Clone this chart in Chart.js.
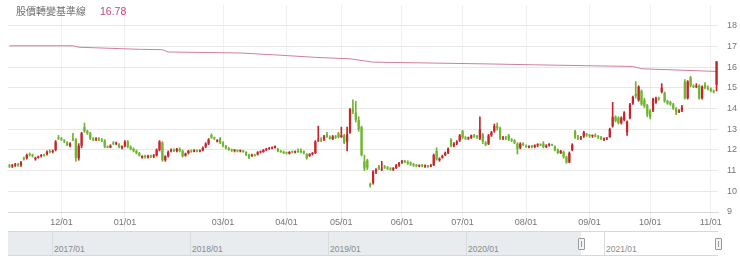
<!DOCTYPE html>
<html>
<head>
<meta charset="utf-8">
<script src="https://cdn.jsdelivr.net/npm/chart.js@4.4.0/dist/chart.umd.min.js"></script>
<style>
  body { margin: 0; background: #fff; }
  #wrap { position: relative; width: 740px; height: 261px; overflow: hidden; font-family: "Liberation Sans", Arial, sans-serif; }
  #box { position: absolute; left: 0; top: 0; width: 740px; height: 231px; }
  #title { position: absolute; left: 16px; top: 3px; font-size: 10px; color: #6e6e6e; font-family: "Noto Sans CJK TC", sans-serif; white-space: nowrap; }
  #title span { color: #c4467c; font-family: "Liberation Sans", Arial, sans-serif; font-size: 10.5px; margin-left: 14px; }
  #nav { position: absolute; left: 8px; top: 231px; width: 710px; height: 23px; border-top: 1px solid #d5d8dc; border-bottom: 1px solid #d5d8dc; background: #fff; }
  .mask { position: absolute; top: 0; bottom: 0; background: #e9ecef; }
  .yl { position: absolute; top: 0; bottom: 0; width: 1px; background: #d9dcdf; }
  .yt { position: absolute; top: 12px; font-size: 8.5px; color: #8a8a8a; }
  .handle { position: absolute; top: 6px; width: 5px; height: 10px; background: #f4f4f4; border: 1px solid #9a9a9a; border-radius: 1px; }
  .handle::after { content: ""; position: absolute; left: 2px; top: 2px; width: 1px; height: 6px; background: #9a9a9a; }
</style>
</head>
<body>
<div id="wrap">
  <div id="box"><canvas id="candleChart"></canvas></div>
  <div id="title"></div>
  <div id="nav"></div>
</div>
<script>
// daily candles, one entry per trading day (Nov 2020 - Nov 2021)
const opens = [
  11.25, 11.2, 11.25, 11.3, 11.25, 11.6, 11.6, 11.8, 11.75, 11.55,
  11.62, 11.7, 11.75, 11.8, 11.95, 11.9, 12.0, 12.6, 12.55, 12.45,
  12.35, 12.2, 12.55, 12.5, 11.6, 12.2, 13.1, 12.9, 12.8, 12.55,
  12.5, 12.55, 12.5, 12.45, 12.15, 12.12, 12.35, 12.3, 12.25, 12.1,
  12.2, 12.4, 12.15, 12.05, 11.95, 11.85, 11.62, 11.7, 11.65, 11.7,
  11.68, 11.72, 12.0, 12.35, 11.5, 11.7, 11.95, 12.0, 11.95, 12.05,
  11.95, 11.72, 11.85, 11.95, 11.92, 11.98, 11.93, 11.98, 12.15, 12.3,
  12.72, 12.6, 12.4, 12.55, 12.35, 12.2, 12.08, 12.0, 11.96, 11.98,
  11.94, 11.96, 11.9, 11.76, 11.7, 11.74, 11.78, 11.88, 11.9, 12.0,
  12.05, 12.08, 12.1, 12.05, 11.95, 11.9, 11.85, 11.82, 11.9, 11.88,
  11.92, 11.95, 11.92, 11.8, 11.72, 11.8, 11.85, 12.45, 12.5, 12.5,
  12.75, 12.62, 12.52, 12.65, 12.8, 12.62, 12.7, 12.4, 12.85, 13.98,
  13.8, 13.45, 13.1, 11.45, 11.5, 10.35, 10.4, 10.95, 11.2, 11.05,
  11.2, 11.15, 11.1, 11.05, 11.12, 11.25, 11.38, 11.45, 11.42, 11.38,
  11.3, 11.25, 11.22, 11.25, 11.2, 11.22, 11.2, 11.26, 11.95, 11.5,
  11.62, 11.75, 11.85, 12.5, 12.2, 12.3, 12.45, 12.9, 12.6, 12.55,
  12.58, 12.7, 12.65, 12.55, 12.75, 12.35, 12.3, 12.7, 12.9, 13.15,
  13.05, 12.55, 12.6, 12.7, 12.5, 12.45, 12.3, 12.1, 12.3, 12.2,
  12.15, 12.18, 12.15, 12.22, 12.25, 12.3, 12.15, 12.22, 12.25, 12.15,
  12.0, 11.85, 11.9, 11.65, 11.4, 12.0, 12.9, 12.6, 12.55, 12.65,
  12.75, 12.7, 12.68, 12.7, 12.65, 12.6, 12.5, 12.55, 12.62, 13.15,
  13.6, 13.55, 13.3, 13.45, 12.85, 13.55, 14.25, 14.7, 14.4, 14.85,
  14.4, 14.15, 13.9, 13.9, 14.3, 14.5, 14.8, 14.75, 14.35, 14.3,
  14.2, 14.0, 13.85, 13.9, 15.3, 14.5, 15.5, 15.1, 15.05, 15.1,
  14.5, 15.15, 15.0, 14.95, 14.85, 15.15
];
const highs = [
  11.3, 11.3, 11.35, 11.35, 11.45, 11.65, 11.8, 11.85, 11.8, 11.65,
  11.7, 11.78, 11.8, 11.95, 12.0, 12.0, 12.45, 12.7, 12.6, 12.5,
  12.4, 12.35, 12.8, 12.55, 12.3, 12.85, 13.3, 12.95, 12.85, 12.6,
  12.6, 12.6, 12.55, 12.5, 12.2, 12.25, 12.4, 12.38, 12.3, 12.2,
  12.45, 12.45, 12.2, 12.1, 12.0, 11.88, 11.72, 11.75, 11.75, 11.75,
  11.78, 12.05, 12.45, 12.4, 11.72, 11.95, 12.05, 12.05, 12.08, 12.1,
  12.0, 11.85, 11.98, 12.0, 12.02, 12.0, 12.0, 12.15, 12.35, 12.55,
  12.78, 12.62, 12.5, 12.6, 12.4, 12.22, 12.12, 12.05, 12.02, 12.0,
  12.0, 11.98, 11.92, 11.8, 11.8, 11.8, 11.92, 11.95, 12.02, 12.08,
  12.12, 12.15, 12.2, 12.08, 11.98, 11.95, 11.9, 11.92, 11.95, 11.95,
  12.05, 12.05, 11.95, 11.82, 11.82, 11.88, 12.45, 13.15, 12.6, 12.7,
  12.85, 12.68, 12.7, 12.7, 12.85, 13.1, 12.75, 13.1, 14.0, 14.42,
  14.35, 13.6, 13.15, 11.75, 11.55, 10.4, 11.0, 11.1, 11.25, 11.45,
  11.25, 11.2, 11.15, 11.15, 11.3, 11.4, 11.5, 11.5, 11.48, 11.42,
  11.35, 11.3, 11.28, 11.3, 11.28, 11.26, 11.3, 11.8, 12.1, 11.62,
  11.75, 11.9, 12.1, 12.55, 12.35, 12.45, 12.75, 12.95, 12.65, 12.62,
  12.72, 12.75, 12.7, 13.6, 12.8, 12.4, 12.75, 12.9, 13.25, 13.3,
  13.1, 12.65, 12.65, 12.75, 12.55, 12.5, 12.35, 12.35, 12.35, 12.25,
  12.2, 12.22, 12.25, 12.3, 12.3, 12.4, 12.25, 12.3, 12.28, 12.2,
  12.05, 11.98, 11.95, 11.7, 11.9, 12.3, 12.95, 12.7, 12.65, 12.9,
  12.8, 12.75, 12.72, 12.78, 12.7, 12.65, 12.58, 12.6, 13.05, 14.3,
  13.65, 13.6, 13.6, 13.85, 13.4, 14.25, 14.6, 15.3, 15.1, 14.9,
  14.5, 14.2, 13.95, 14.5, 14.55, 14.55, 15.2, 14.8, 14.4, 14.35,
  14.25, 14.05, 13.95, 14.15, 15.4, 15.35, 15.55, 15.15, 15.2, 15.15,
  15.1, 15.25, 15.1, 15.0, 14.9, 16.27
];
const lows = [
  11.15, 11.15, 11.2, 11.2, 11.2, 11.5, 11.55, 11.7, 11.65, 11.5,
  11.6, 11.65, 11.7, 11.75, 11.85, 11.85, 11.95, 12.5, 12.45, 12.35,
  12.2, 12.15, 12.45, 11.45, 11.5, 12.1, 12.85, 12.75, 12.5, 12.45,
  12.45, 12.45, 12.4, 12.1, 12.1, 12.1, 12.25, 12.25, 12.1, 12.05,
  12.15, 12.1, 12.0, 11.9, 11.8, 11.7, 11.6, 11.6, 11.6, 11.62,
  11.62, 11.7, 11.95, 11.45, 11.45, 11.65, 11.9, 11.92, 11.9, 11.9,
  11.65, 11.7, 11.8, 11.88, 11.9, 11.9, 11.9, 11.95, 12.1, 12.25,
  12.55, 12.5, 12.38, 12.3, 12.15, 12.05, 11.98, 11.92, 11.9, 11.9,
  11.9, 11.88, 11.72, 11.58, 11.68, 11.7, 11.75, 11.85, 11.88, 11.96,
  12.02, 12.05, 12.08, 11.9, 11.88, 11.82, 11.8, 11.8, 11.85, 11.85,
  11.88, 11.85, 11.8, 11.55, 11.68, 11.75, 11.82, 12.4, 12.4, 12.45,
  12.6, 12.52, 12.5, 12.55, 12.58, 12.6, 12.3, 11.95, 12.8, 13.75,
  13.35, 12.9, 11.7, 11.0, 11.05, 10.2, 10.35, 10.85, 11.05, 11.0,
  11.1, 11.05, 11.02, 11.0, 11.1, 11.2, 11.35, 11.38, 11.3, 11.25,
  11.2, 11.18, 11.18, 11.18, 11.15, 11.15, 11.18, 11.24, 11.5, 11.45,
  11.6, 11.72, 11.82, 12.15, 12.15, 12.25, 12.4, 12.55, 12.5, 12.5,
  12.55, 12.6, 12.55, 12.5, 12.3, 12.2, 12.25, 12.65, 12.85, 12.95,
  12.5, 12.5, 12.5, 12.45, 12.4, 12.3, 11.8, 12.05, 12.2, 12.12,
  12.1, 12.1, 12.1, 12.15, 12.2, 12.1, 12.1, 12.18, 12.2, 11.95,
  11.82, 11.82, 11.6, 11.35, 11.38, 11.95, 12.55, 12.5, 12.5, 12.6,
  12.65, 12.6, 12.6, 12.62, 12.55, 12.5, 12.45, 12.5, 12.6, 13.1,
  13.35, 13.25, 13.25, 13.4, 12.7, 13.5, 14.2, 14.5, 14.35, 14.15,
  14.05, 13.6, 13.5, 13.85, 14.25, 14.4, 14.75, 14.3, 14.2, 14.15,
  13.95, 13.7, 13.8, 13.85, 14.45, 14.45, 15.05, 15.0, 15.0, 14.45,
  14.45, 14.95, 14.9, 14.8, 14.75, 14.85
];
const closes = [
  11.2, 11.25, 11.3, 11.25, 11.4, 11.55, 11.75, 11.75, 11.7, 11.62,
  11.68, 11.75, 11.72, 11.9, 11.9, 11.95, 12.4, 12.55, 12.5, 12.4,
  12.25, 12.3, 12.5, 11.6, 12.2, 12.8, 12.9, 12.8, 12.55, 12.5,
  12.55, 12.5, 12.45, 12.15, 12.12, 12.2, 12.3, 12.32, 12.15, 12.18,
  12.4, 12.15, 12.05, 11.95, 11.85, 11.72, 11.7, 11.65, 11.7, 11.68,
  11.72, 12.0, 12.4, 11.5, 11.7, 11.9, 12.0, 11.95, 12.05, 11.95,
  11.7, 11.82, 11.95, 11.92, 11.98, 11.93, 11.97, 12.1, 12.3, 12.5,
  12.6, 12.55, 12.47, 12.35, 12.2, 12.08, 12.0, 11.96, 11.98, 11.94,
  11.96, 11.9, 11.76, 11.62, 11.76, 11.72, 11.88, 11.9, 12.0, 12.05,
  12.1, 12.12, 12.18, 11.95, 11.9, 11.85, 11.83, 11.9, 11.88, 11.92,
  11.9, 11.9, 11.85, 11.6, 11.8, 11.85, 12.4, 12.5, 12.45, 12.65,
  12.62, 12.55, 12.65, 12.6, 12.62, 12.7, 12.35, 12.75, 13.98, 13.85,
  13.45, 13.0, 11.75, 11.1, 11.15, 10.28, 10.95, 11.05, 11.1, 11.08,
  11.15, 11.1, 11.05, 11.12, 11.25, 11.35, 11.45, 11.42, 11.35, 11.3,
  11.25, 11.22, 11.25, 11.2, 11.22, 11.2, 11.26, 11.75, 11.55, 11.58,
  11.7, 11.85, 12.05, 12.2, 12.3, 12.4, 12.7, 12.6, 12.55, 12.58,
  12.7, 12.65, 12.6, 13.0, 12.4, 12.25, 12.7, 12.85, 13.15, 13.05,
  12.55, 12.6, 12.55, 12.5, 12.45, 12.35, 12.05, 12.3, 12.25, 12.15,
  12.18, 12.15, 12.22, 12.25, 12.22, 12.15, 12.2, 12.25, 12.22, 12.0,
  11.85, 11.95, 11.65, 11.4, 11.85, 12.25, 12.6, 12.55, 12.6, 12.85,
  12.7, 12.68, 12.7, 12.65, 12.6, 12.52, 12.55, 12.58, 13.0, 13.6,
  13.4, 13.3, 13.55, 13.8, 13.35, 14.2, 14.55, 14.6, 15.05, 14.2,
  14.1, 13.7, 13.6, 14.45, 14.5, 14.45, 15.0, 14.35, 14.25, 14.2,
  14.0, 13.8, 13.9, 14.05, 14.5, 15.3, 15.1, 15.05, 15.1, 14.5,
  15.05, 15.0, 14.95, 14.85, 14.8, 16.27
];

// [day index, value] of the baseline where its slope changes
const baseline = [
  [0, 17.03], [22, 17.03], [24, 16.96], [45, 16.86], [53, 16.84], [55, 16.73],
  [80, 16.68], [91, 16.6], [106, 16.47], [118, 16.4], [126, 16.24], [167, 16.15],
  [182, 16.11], [216, 16.03], [219, 15.92], [245, 15.79]
];

// [day index, label] for the first trading day of each labelled month
const monthTicks = [
  [18, '12/01'], [40, '01/01'], [74, '03/01'], [96, '04/01'], [115, '05/01'], [136, '06/01'],
  [157, '07/01'], [179, '08/01'], [201, '09/01'], [222, '10/01'], [243, '11/01']
];

const baselineName = '股價轉變基準線';
const baselineValue = '16.78';
const navYears = ['2017/01', '2018/01', '2019/01', '2020/01', '2021/01'];

const RED = '#c4262b';
const GREEN = '#6fb52e';
const isUp = i => closes[i] >= opens[i];
const candleColor = ctx => isUp(ctx.dataIndex) ? RED : GREEN;
const tickLabel = {};
monthTicks.forEach(t => { tickLabel[t[0]] = t[1]; });

// header
document.getElementById('title').innerHTML = baselineName + '<span>' + baselineValue + '</span>';

// navigator strip
const nav = document.getElementById('nav');
const yearX = [44, 182, 320, 458, 596];   // px from navigator left
const selLeft = 573;
nav.innerHTML = '<div class="mask" style="left:0;width:' + selLeft + 'px"></div>';
navYears.forEach((y, k) => {
    nav.innerHTML += '<div class="yl" style="left:' + yearX[k] + 'px"></div>' +
        '<div class="yt" style="left:' + (yearX[k] + 2) + 'px">' + y + '</div>';
});
nav.innerHTML += '<div class="handle" style="left:' + (selLeft - 3) + 'px"></div>' +
    '<div class="handle" style="left:707px"></div>';

// main candle chart
new Chart(document.getElementById('candleChart'), {
    type: 'bar',
    data: {
        labels: opens.map((_, i) => i),
        datasets: [
            {
                type: 'line',
                data: baseline.map(p => ({ x: p[0], y: p[1] })),
                borderColor: '#d07f98',
                borderWidth: 1,
                pointRadius: 0,
                tension: 0,
                order: 3
            },
            {
                data: lows.map((l, i) => [l, highs[i]]),
                backgroundColor: candleColor,
                barThickness: 1,
                grouped: false,
                order: 2
            },
            {
                data: opens.map((o, i) => [o, closes[i]]),
                backgroundColor: candleColor,
                barPercentage: 0.78,
                categoryPercentage: 1,
                minBarLength: 1,
                grouped: false,
                order: 1
            }
        ]
    },
    options: {
        responsive: true,
        maintainAspectRatio: false,
        animation: false,
        layout: { padding: { left: 8, top: 5, right: 0, bottom: 0 } },
        plugins: {
            legend: { display: false },
            tooltip: { enabled: false }
        },
        scales: {
            x: {
                offset: true,
                afterBuildTicks: s => { s.ticks = monthTicks.map(t => ({ value: t[0] })); },
                afterFit: s => { s.height = 19; s.paddingLeft = 0; s.paddingRight = 0; },
                grid: { offset: false, color: '#efefef', drawTicks: true, tickLength: 18 },
                border: { color: '#d9d9d9' },
                ticks: {
                    autoSkip: false,
                    maxRotation: 0,
                    padding: -13,
                    color: '#777',
                    font: { family: '"Liberation Sans", Arial, sans-serif', size: 9 },
                    callback: v => tickLabel[v] || ''
                }
            },
            y: {
                position: 'right',
                min: 9,
                max: 19,
                afterFit: s => { s.width = 22; s.paddingTop = 0; s.paddingBottom = 0; },
                border: { display: false },
                grid: {
                    drawTicks: false,
                    color: c => c.tick && c.tick.value === 19 ? 'rgba(0,0,0,0)' : '#e8e8e8'
                },
                ticks: {
                    stepSize: 1,
                    padding: 9,
                    color: '#777',
                    font: { family: '"Liberation Sans", Arial, sans-serif', size: 9 },
                    callback: v => v === 19 ? '' : v
                }
            }
        }
    }
});
</script>
</body>
</html>
